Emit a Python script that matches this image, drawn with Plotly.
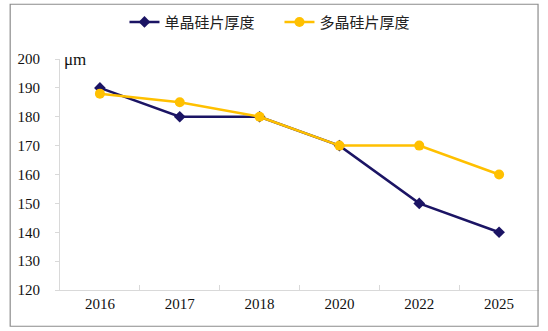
import plotly.graph_objects as go

years = ["2016", "2017", "2018", "2020", "2022", "2025"]
mono = [190, 180, 180, 170, 150, 140]
poly = [188, 185, 180, 170, 170, 160]
names = ["单晶硅片厚度", "多晶硅片厚度"]
y_ticks = [120, 130, 140, 150, 160, 170, 180, 190, 200]

serif = "Liberation Serif, Times New Roman, serif"
cjk = "Noto Sans CJK SC, sans-serif"

fig = go.Figure()
fig.add_trace(go.Scatter(x=years, y=mono, name=names[0], mode="lines+markers",
                         line=dict(color="#1B1464", width=2.5),
                         marker=dict(symbol="diamond", size=9, color="#1B1464")))
fig.add_trace(go.Scatter(x=years, y=poly, name=names[1], mode="lines+markers",
                         line=dict(color="#FFC000", width=2.5),
                         marker=dict(symbol="circle", size=10, color="#FFC000")))

fig.update_layout(
    width=548, height=331,
    margin=dict(l=60, r=9, t=59, b=41),
    paper_bgcolor="white", plot_bgcolor="white",
    showlegend=True,
    legend=dict(orientation="h", x=0.51, xref="container", xanchor="center", y=0.933,
                yref="container", yanchor="middle",
                font=dict(family=cjk, size=15, color="#222"),
                itemwidth=30, entrywidth=110, tracegroupgap=0, bgcolor="rgba(0,0,0,0)"),
    xaxis=dict(type="category", showgrid=False, showline=True, linecolor="#d9d9d9",
               linewidth=1, ticks="inside", tickson="boundaries", ticklen=5,
               tickcolor="#d9d9d9", tickfont=dict(family=serif, size=15, color="#111"),
               range=[-0.5, 5.5], zeroline=False),
    yaxis=dict(range=[120, 200], tickvals=y_ticks, showgrid=False, showline=True,
               linecolor="#d9d9d9", linewidth=1, ticks="outside", ticklen=4,
               tickcolor="#d9d9d9", tickfont=dict(family=serif, size=15, color="#111"),
               ticklabelstandoff=12, zeroline=False),
    shapes=[dict(type="rect", xref="paper", yref="paper", x0=-0.104, x1=0.998,
                 y0=-0.157, y1=1.237, line=dict(color="#8c8c8c", width=1.2))],
    annotations=[dict(text="μm", xref="paper", yref="y", x=0.005, y=200, xanchor="left",
                      yanchor="middle", showarrow=False,
                      font=dict(family=serif, size=17, color="#111"))],
)

fig.write_html("out.html")
